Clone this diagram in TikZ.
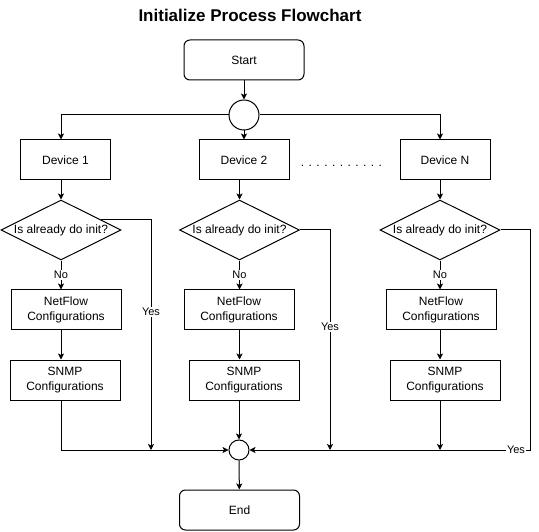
\documentclass[tikz,border=0pt]{standalone}
\usepackage{fontspec}
\setmainfont{Liberation Sans}
\usetikzlibrary{shapes.geometric,arrows.meta}
\tikzset{
  arr/.style={line width=1pt,-{Stealth[length=6pt,width=6pt,inset=1.5pt]}},
  terminal/.style={draw,line width=1pt,rounded corners=6pt,minimum width=120pt,minimum height=40pt,inner sep=0pt,font=\fontsize{12}{14.4}\selectfont},
  devbox/.style={draw,line width=1pt,minimum width=90pt,minimum height=40pt,inner sep=0pt,font=\fontsize{12}{14.4}\selectfont},
  cfgbox/.style={draw,line width=1pt,minimum width=110pt,minimum height=40pt,inner sep=0pt,align=center,font=\fontsize{12}{14.4}\selectfont},
  decision/.style={draw,diamond,aspect=2,line width=1pt,minimum width=120pt,minimum height=60pt,inner sep=0pt,font=\fontsize{12}{14.4}\selectfont},
  junction/.style={draw,circle,line width=1pt,inner sep=0pt},
  edgelabel/.style={fill=white,inner sep=1pt,font=\fontsize{11}{13}\selectfont},
}
\begin{document}
\begin{tikzpicture}[x=1pt,y=-1pt]
  \useasboundingbox (0,0) rectangle (539,532);
  \node[font=\bfseries\fontsize{17}{20}\selectfont] (title) at (250,15) {Initialize Process Flowchart};
  \node[terminal] (start) at (244,60) {Start};
  \node[junction,minimum size=30pt] (fork) at (244,115) {};
  \node[devbox] (dev1) at (65.5,160) {Device 1};
  \node[devbox] (dev2) at (244,160) {Device 2};
  \node[devbox] (devN) at (445,160) {Device N};
  \node[anchor=base,font=\fontsize{12}{14.4}\selectfont] (dots) at (341.5,167) {. . . . . . . . . . .};
  \node[decision] (ask1) at (61,230) {Is already do init?};
  \node[decision] (ask2) at (239.5,230) {Is already do init?};
  \node[decision] (askN) at (440,230) {Is already do init?};
  \node[cfgbox] (nf1) at (66,310) {NetFlow\\Configurations};
  \node[cfgbox] (nf2) at (239,310) {NetFlow\\Configurations};
  \node[cfgbox] (nfN) at (441,310) {NetFlow\\Configurations};
  \node[cfgbox] (snmp1) at (65,380) {SNMP\\Configurations};
  \node[cfgbox] (snmp2) at (244,380) {SNMP\\Configurations};
  \node[cfgbox] (snmpN) at (445,380) {SNMP\\Configurations};
  \node[junction,minimum size=20pt] (merge) at (239,450) {};
  \node[terminal] (end) at (239.5,510) {End};
  \coordinate (yes1) at (151,450);
  \coordinate (yes2) at (330,450);
  \coordinate (yesN) at (530,450);
  \begin{scope}[arr]
    \draw (start) -- (fork);
    \draw (fork.west) -| (ask1 |- dev1.north);
    \draw (fork) -- (dev2);
    \draw (fork.east) -| (askN |- devN.north);
    \draw (ask1 |- dev1.south) -- (ask1);
    \draw (ask2 |- dev2.south) -- (ask2);
    \draw (askN |- devN.south) -- (askN);
    \draw (ask1) -- node[edgelabel]{No} (ask1 |- nf1.north);
    \draw (ask2) -- node[edgelabel]{No} (ask2 |- nf2.north);
    \draw (askN) -- node[edgelabel]{No} (askN |- nfN.north);
    \draw (ask1 |- nf1.south) -- (ask1 |- snmp1.north);
    \draw (ask2 |- nf2.south) -- (ask2 |- snmp2.north);
    \draw (askN |- nfN.south) -- (askN |- snmpN.north);
    \draw (ask1 |- snmp1.south) |- (merge);
    \draw (merge |- snmp2.south) -- (merge);
    \draw (askN |- snmpN.south) -- (askN |- merge);
    \draw (ask1.14) -| node[edgelabel,pos=0.7]{Yes} (yes1);
    \draw (ask2.east) -| node[edgelabel,pos=0.72]{Yes} (yes2);
    \draw (askN.east) -| (yesN) -- node[edgelabel,pos=0.05]{Yes} (merge);
    \draw (merge) -- (end);
  \end{scope}
\end{tikzpicture}
\end{document}
